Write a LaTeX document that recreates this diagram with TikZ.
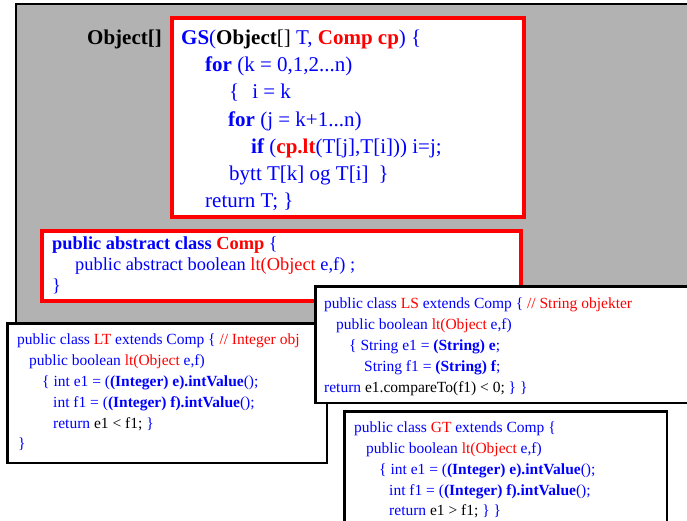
\documentclass[tikz,border=0pt]{standalone}
\usepackage{fontspec}
\setmainfont{Liberation Serif}
\definecolor{cblue}{RGB}{0,0,255}
\definecolor{cred}{RGB}{255,0,0}
\definecolor{cgray}{RGB}{178,178,178}
\newcommand\Rd[1]{\textcolor{cred}{#1}}
\newcommand\Bk[1]{\textcolor{black}{#1}}
\tikzset{
  txt/.style={anchor=base west, inner sep=0pt, text=cblue},
  big/.style={txt, font=\fontsize{21}{25}\selectfont},
  mid/.style={txt, font=\fontsize{18.4}{22}\selectfont},
  sml/.style={txt, font=\fontsize{15.5}{19}\selectfont},
  graybox/.style={draw=black, line width=2pt, fill=cgray, anchor=north west, inner sep=0pt},
  redbox/.style={draw=cred, line width=4pt, fill=white, anchor=north west, inner sep=0pt},
  blackbox/.style={draw=black, line width=2.5pt, fill=white, anchor=north west, inner sep=0pt},
}
\begin{document}
\begin{tikzpicture}[x=1pt,y=-1pt]
\useasboundingbox (0,0) rectangle (687,521);
\clip (0,0) rectangle (687,521);
\fill[white] (0,0) rectangle (687,521);
% boxes
\node[graybox, minimum width=700pt, minimum height=340pt] (bg) at (15,3) {};
\node[redbox, minimum width=352pt, minimum height=199pt] (gs) at (170,16) {};
\node[redbox, minimum width=479pt, minimum height=70pt] (comp) at (40,229) {};
\node[blackbox, minimum width=319.5pt, minimum height=139.5pt] (lt) at (6.25,322.25) {};
\node[blackbox, minimum width=400pt, minimum height=116.5pt] (ls) at (314.25,285.25) {};
\node[blackbox, minimum width=322.5pt, minimum height=140pt] (gt) at (343.25,410.25) {};
% GS text
\node[big, text=black] (obj) at (87,44.5) {\textbf{Object[]}};
\node[big] (g1) at (181,44.5) {\textbf{GS}(\Bk{\textbf{Object}[]} T, \Rd{\textbf{Comp cp}}) \{};
\node[big] (g2) at (205,71.8) {\textbf{for} (k = 0,1,2...n)};
\node[big] (g3) at (229,99) {\{\hspace{13pt}i = k};
\node[big] (g4) at (228,126.2) {\textbf{for} (j = k+1...n)};
\node[big] (g5) at (251,153.4) {\textbf{if} (\Rd{\textbf{cp.lt}}(T[j],T[i])) i=j;};
\node[big] (g6) at (229,180.6) {bytt T[k] og T[i]\hspace{10pt}\}};
\node[big] (g7) at (205,207.8) {return T; \}};
% Comp text
\node[mid] (c1) at (52,249.5) {\textbf{public abstract class} \Rd{\textbf{Comp}} \{};
\node[mid] (c2) at (75,270.5) {public abstract boolean \Rd{lt(Object} e,f) ;};
\node[mid] (c3) at (52,291.5) {\}};
% LT text
\node[sml] (t1) at (17,344.5) {public class \Rd{LT} extends Comp \{ \Rd{// Integer obj}};
\node[sml] (t2) at (29,365) {public boolean \Rd{lt(Object} e,f)};
\node[sml] (t3) at (42,386) {\{ int e1 = (\textbf{(Integer) e).intValue}();};
\node[sml] (t4) at (53,407) {int f1 = (\textbf{(Integer) f).intValue}();};
\node[sml] (t5) at (53,428) {return \Bk{e1 < f1;} \}};
\node[sml] (t6) at (18,448.5) {\}};
% LS text
\node[sml] (s1) at (324,308.5) {public class \Rd{LS} extends Comp \{ \Rd{// String objekter}};
\node[sml] (s2) at (336,329) {public boolean \Rd{lt(Object} e,f)};
\node[sml] (s3) at (349,350) {\{ String e1 = \textbf{(String) e};};
\node[sml] (s4) at (364,371) {String f1 = \textbf{(String) f};};
\node[sml] (s5) at (324,392) {return \Bk{e1.compareTo(f1) < 0;} \} \}};
% GT text
\node[sml] (r1) at (354,432) {public class \Rd{GT} extends Comp \{};
\node[sml] (r2) at (366,453) {public boolean \Rd{lt(Object} e,f)};
\node[sml] (r3) at (379,474) {\{ int e1 = (\textbf{(Integer) e).intValue}();};
\node[sml] (r4) at (389,495) {int f1 = (\textbf{(Integer) f).intValue}();};
\node[sml] (r5) at (389,515.5) {return \Bk{e1 > f1;} \} \}};
\end{tikzpicture}
\end{document}
